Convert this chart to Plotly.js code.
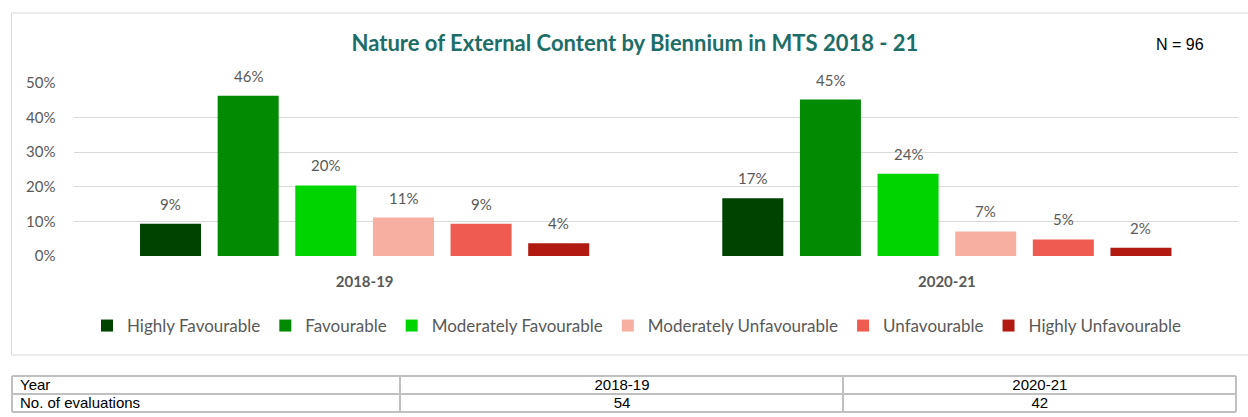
<!DOCTYPE html>
<html>
<head>
<meta charset="utf-8">
<script src="https://cdn.plot.ly/plotly-3.0.1.min.js"></script>
<style>
  html, body { margin: 0; padding: 0; background: #ffffff; }
  #chart { width: 1248px; height: 417px; }
</style>
</head>
<body>
<div id="chart"></div>
<script>
// ---- Data ----
const categories = ['2018-19', '2020-21'];
const seriesNames = ['Highly Favourable', 'Favourable', 'Moderately Favourable',
                     'Moderately Unfavourable', 'Unfavourable', 'Highly Unfavourable'];
const seriesColors = ['#004200', '#028a02', '#00d400', '#f6afa1', '#ef5b51', '#b01a10'];

const highlyFavourable       = [0.093, 0.167];
const favourable             = [0.463, 0.452];
const moderatelyFavourable   = [0.204, 0.238];
const moderatelyUnfavourable = [0.111, 0.071];
const unfavourable           = [0.093, 0.048];
const highlyUnfavourable     = [0.037, 0.024];

const yTickVals = [0, 0.1, 0.2, 0.3, 0.4, 0.5];
const yTickText = ['0%', '10%', '20%', '30%', '40%', '50%'];

const tableHeader = ['Year', '2018-19', '2020-21'];
const evaluationLabel = 'No. of evaluations';
const evaluations = [54, 42];

const chartTitle = 'Nature of External Content by Biennium in MTS 2018 - 21';

// ---- Build ----
const seriesValues = [highlyFavourable, favourable, moderatelyFavourable,
                      moderatelyUnfavourable, unfavourable, highlyUnfavourable];

const W = 1248, H = 417;
const px = v => v / W;
const py = v => 1 - v / H;

const bargap = 0.2;
const bargroupgap = 0.214;
const font = 'Lato, "Open Sans", sans-serif';
const grey = '#595959';
const tableFont = { family: 'Arial, "Liberation Sans", sans-serif', size: 15, color: '#000000' };

const traces = seriesValues.map((vals, j) => ({
  type: 'bar',
  name: seriesNames[j],
  x: categories,
  y: vals,
  marker: { color: seriesColors[j] },
  hoverinfo: 'name+y'
}));

const slot = (1 - bargap) / seriesValues.length;
const labelAnnotations = [];
seriesValues.forEach((vals, j) => {
  vals.forEach((v, i) => {
    labelAnnotations.push({
      xref: 'x', yref: 'y',
      x: i + (j - (seriesValues.length - 1) / 2) * slot,
      y: v,
      text: Math.round(v * 100) + '%',
      showarrow: false,
      yanchor: 'bottom',
      yshift: 9,
      font: { family: font, size: 15, color: grey }
    });
  });
});

const total = evaluations.reduce((a, b) => a + b, 0);

// table text (grid lines drawn as shapes below)
traces.push({
  type: 'table',
  domain: { x: [px(12), px(1236)], y: [py(409), py(371)] },
  columnwidth: [388, 443, 392],
  header: {
    values: tableHeader,
    align: ['left', 'center', 'center'],
    height: 18,
    line: { color: 'rgba(0,0,0,0)', width: 0 },
    fill: { color: 'rgba(0,0,0,0)' },
    font: tableFont
  },
  cells: {
    values: [[evaluationLabel], [String(evaluations[0])], [String(evaluations[1])]],
    align: ['left', 'center', 'center'],
    height: 18,
    line: { color: 'rgba(0,0,0,0)', width: 0 },
    fill: { color: 'rgba(0,0,0,0)' },
    font: tableFont
  }
});

const tableLine = { color: '#c0c0c0', width: 2 };
const tableShapes = [
  { y: 376 }, { y: 394 }, { y: 412 }
].map(o => ({ type: 'line', xref: 'paper', yref: 'paper',
  x0: px(12), x1: px(1236), y0: py(o.y), y1: py(o.y), line: tableLine }))
 .concat([{ x: 12 }, { x: 400 }, { x: 843 }, { x: 1236 }].map(o => ({
  type: 'line', xref: 'paper', yref: 'paper',
  x0: px(o.x), x1: px(o.x), y0: py(376), y1: py(412), line: tableLine })));

const layout = {
  width: W, height: H,
  margin: { l: 0, r: 0, t: 0, b: 0 },
  paper_bgcolor: '#ffffff',
  plot_bgcolor: '#ffffff',
  barmode: 'group',
  bargap: bargap,
  bargroupgap: bargroupgap,
  title: {
    text: '<b>' + chartTitle + '</b>',
    x: px(635), xanchor: 'center',
    y: py(43), yanchor: 'middle',
    font: { family: font, size: 22, color: '#1d6d69' }
  },
  xaxis: {
    domain: [px(73.5), px(1238)],
    type: 'category',
    showgrid: false,
    zeroline: false,
    showline: false,
    ticks: '',
    ticklabelstandoff: 15,
    tickfont: { family: font, size: 15, color: grey, weight: 'bold' },
    fixedrange: true
  },
  yaxis: {
    domain: [py(256), py(83)],
    range: [0, 0.5],
    tickvals: yTickVals,
    ticktext: yTickText,
    showgrid: true,
    gridcolor: '#d9d9d9',
    gridwidth: 1,
    zeroline: false,
    showline: false,
    ticks: '',
    ticklabelstandoff: 17,
    tickfont: { family: font, size: 15, color: grey },
    fixedrange: true
  },
  showlegend: true,
  legend: {
    orientation: 'h',
    x: 0.51, xanchor: 'center',
    y: py(326), yanchor: 'middle',
    font: { family: font, size: 17, color: grey },
    itemwidth: 30,
    traceorder: 'normal',
    bgcolor: 'rgba(0,0,0,0)'
  },
  shapes: [{
    type: 'rect', xref: 'paper', yref: 'paper',
    x0: px(11.5), x1: px(1252), y0: py(355), y1: py(13),
    line: { color: '#d9d9d9', width: 1 },
    fillcolor: 'rgba(0,0,0,0)', layer: 'below'
  }].concat(tableShapes),
  annotations: labelAnnotations.concat([{
    xref: 'paper', yref: 'paper',
    x: px(1180), y: py(44),
    xanchor: 'center', yanchor: 'middle',
    text: 'N = ' + total,
    showarrow: false,
    font: { family: 'Arial, "Liberation Sans", sans-serif', size: 16, color: '#000000' }
  }])
};

Plotly.newPlot('chart', traces, layout, { displayModeBar: false, staticPlot: true });
</script>
</body>
</html>
